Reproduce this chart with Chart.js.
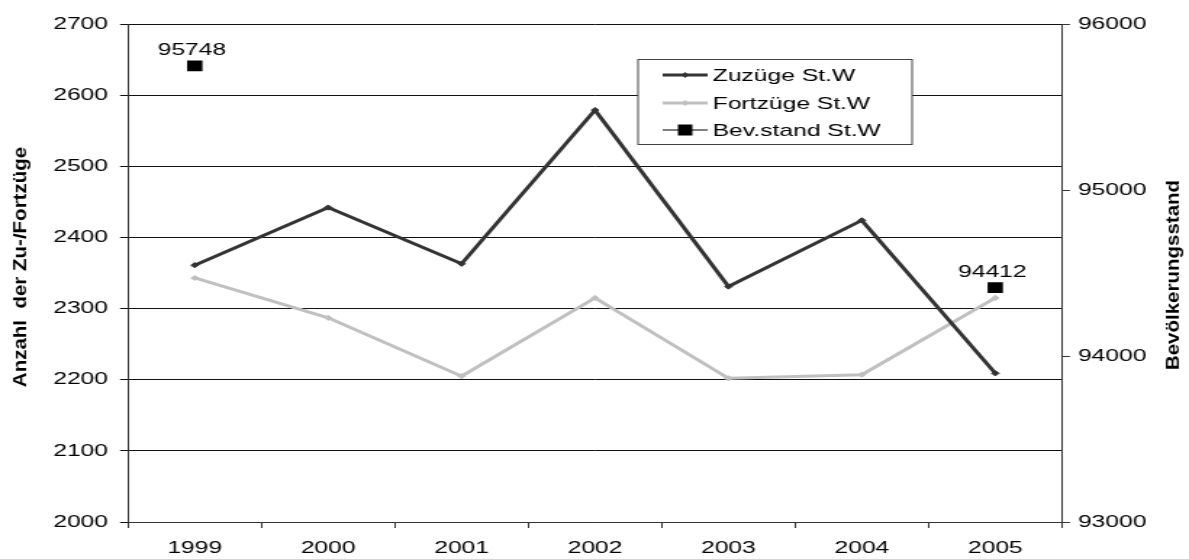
<!DOCTYPE html>
<html lang="de">
  <head>
    <meta charset="UTF-8" />
    <title>Zu- und Fortzüge St.W</title>
    <script src="https://cdn.jsdelivr.net/npm/chart.js"></script>
    <style>
      * {
        margin: 0;
        padding: 0;
        box-sizing: border-box;
      }
      body {
        background: #fff;
        width: 1189px;
        height: 559px;
        overflow: hidden;
      }
      /* the original picture is stretched sideways, so the chart is drawn narrow and widened */
      .wrap {
        width: 820px;
        height: 559px;
        transform: scaleX(1.45);
        transform-origin: 0 0;
      }
    </style>
  </head>
  <body>
    <div class="wrap">
      <canvas id="chart" width="820" height="559"></canvas>
    </div>

    <script>
      const years = ["1999", "2000", "2001", "2002", "2003", "2004", "2005"];
      const zuzuege = [2361, 2442, 2363, 2579, 2331, 2424, 2209];
      const fortzuege = [2343, 2287, 2205, 2315, 2202, 2207, 2315];
      const bevstand = [95748, null, null, null, null, null, 94412];

      const leftTitle = "Anzahl  der Zu-/Fortzüge";
      const rightTitle = "Bevölkerungsstand";
      const FONT = '"Liberation Sans", Arial, sans-serif';

      // value labels above the Bev.stand squares
      const valueLabels = {
        id: "valueLabels",
        afterDatasetsDraw(chart) {
          const ctx = chart.ctx;
          const meta = chart.getDatasetMeta(2);
          ctx.save();
          ctx.font = "17px " + FONT;
          ctx.fillStyle = "#000";
          ctx.textAlign = "center";
          ctx.textBaseline = "alphabetic";
          meta.data.forEach((pt, i) => {
            const v = bevstand[i];
            if (v == null) return;
            ctx.fillText(String(v), pt.x - 2, pt.y - 10.5);
          });
          ctx.restore();
        },
      };

      // rotated axis titles, squeezed like in the original
      const axisTitles = {
        id: "axisTitles",
        afterDraw(chart) {
          const ctx = chart.ctx;
          ctx.save();
          ctx.font = "bold 20.5px " + FONT;
          ctx.fillStyle = "#000";
          ctx.textAlign = "center";
          ctx.textBaseline = "middle";
          [
            [leftTitle, 14, 267],
            [rightTitle, 809, 275],
          ].forEach(([t, x, y]) => {
            ctx.save();
            ctx.translate(x, y);
            ctx.rotate(-Math.PI / 2);
            ctx.scale(1, 0.66);
            ctx.fillText(t, 0, 0);
            ctx.restore();
          });
          ctx.restore();
        },
      };

      // legend box inside the plot
      const boxLegend = {
        id: "boxLegend",
        afterDraw(chart) {
          const ctx = chart.ctx;
          const left = 440, top = 59.5, right = 629, bottom = 144.5;
          const rows = [75, 103, 130];
          ctx.save();
          ctx.fillStyle = "#fff";
          ctx.fillRect(left, top, right - left, bottom - top);
          ctx.strokeStyle = "#444";
          ctx.lineWidth = 1;
          ctx.strokeRect(left, top, right - left, bottom - top);
          ctx.font = "17px " + FONT;
          ctx.textBaseline = "middle";
          ctx.textAlign = "left";
          chart.data.datasets.forEach((ds, i) => {
            const y = rows[i];
            const x0 = 457, x1 = 488, xm = (x0 + x1) / 2;
            ctx.strokeStyle = i === 2 ? "#000" : ds.borderColor;
            ctx.lineWidth = i === 2 ? 1 : 3;
            ctx.beginPath();
            ctx.moveTo(x0, y);
            ctx.lineTo(x1, y);
            ctx.stroke();
            ctx.fillStyle = ds.pointBackgroundColor;
            if (i === 2) {
              ctx.fillRect(xm - 5, y - 5.5, 10, 11);
            } else {
              ctx.beginPath();
              ctx.moveTo(xm, y - 3);
              ctx.lineTo(xm + 2.5, y);
              ctx.lineTo(xm, y + 3);
              ctx.lineTo(xm - 2.5, y);
              ctx.closePath();
              ctx.fill();
            }
            ctx.fillStyle = "#000";
            ctx.fillText(ds.label, 491.5, y + 1);
          });
          ctx.restore();
        },
      };

      const tickFont = { family: FONT, size: 17 };
      const plain = (v) => String(v);

      new Chart(document.getElementById("chart"), {
        type: "line",
        data: {
          labels: years,
          datasets: [
            {
              label: "Zuzüge St.W",
              data: zuzuege,
              yAxisID: "y",
              borderColor: "#333333",
              backgroundColor: "#333333",
              pointBackgroundColor: "#333333",
              pointBorderColor: "#333333",
              borderWidth: 3,
              pointStyle: "rectRot",
              pointRadius: 2.6,
              pointBorderWidth: 1,
              tension: 0,
            },
            {
              label: "Fortzüge St.W",
              data: fortzuege,
              yAxisID: "y",
              borderColor: "#c0c0c0",
              backgroundColor: "#c0c0c0",
              pointBackgroundColor: "#c0c0c0",
              pointBorderColor: "#c0c0c0",
              borderWidth: 3,
              pointStyle: "rectRot",
              pointRadius: 2.6,
              pointBorderWidth: 1,
              tension: 0,
            },
            {
              label: "Bev.stand St.W",
              data: bevstand,
              yAxisID: "y1",
              showLine: false,
              borderColor: "#000",
              backgroundColor: "#000",
              pointBackgroundColor: "#000",
              pointBorderColor: "#000",
              pointStyle: "rect",
              pointRadius: 7.5,
              pointBorderWidth: 0,
            },
          ],
        },
        options: {
          responsive: false,
          animation: false,
          devicePixelRatio: 1,
          layout: { padding: { top: 24, left: 0, right: 0, bottom: 0 } },
          plugins: {
            legend: { display: false },
            tooltip: { enabled: false },
          },
          scales: {
            x: {
              offset: true,
              grid: {
                offset: true,
                drawOnChartArea: false,
                color: "#333",
                tickLength: 6,
              },
              border: { color: "#333", width: 1 },
              ticks: { color: "#000", font: tickFont, padding: 10, maxRotation: 0 },
              afterFit(s) {
                s.height = 37;
              },
            },
            y: {
              position: "left",
              min: 2000,
              max: 2700,
              ticks: { stepSize: 100, color: "#000", font: tickFont, padding: 8.3, callback: plain },
              grid: { color: "#111", tickLength: 5.5 },
              border: { color: "#333", width: 1 },
              afterFit(s) {
                s.width = 88.3;
              },
            },
            y1: {
              position: "right",
              min: 93000,
              max: 96000,
              ticks: { stepSize: 1000, color: "#000", font: tickFont, padding: 5.5, callback: plain },
              grid: { drawOnChartArea: false, color: "#333", tickLength: 5.5 },
              border: { color: "#333", width: 1 },
              afterFit(s) {
                s.width = 820 - 732.4;
              },
            },
          },
        },
        plugins: [valueLabels, boxLegend, axisTitles],
      });
    </script>
  </body>
</html>
